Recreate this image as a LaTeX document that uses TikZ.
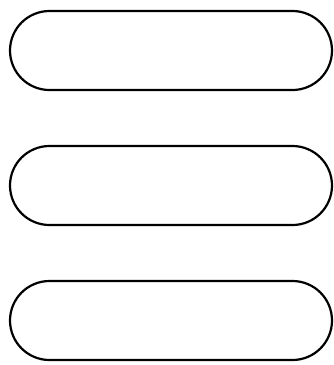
\documentclass[tikz,border=0pt]{standalone}
\usetikzlibrary{shapes.misc}
\begin{document}
\begin{tikzpicture}[x=1pt,y=1pt,
  pill/.style={draw=black, line width=2.2pt, rounded rectangle, rounded rectangle arc length=180,
    minimum width=322pt, minimum height=79pt, inner sep=0pt, fill=white}]
\useasboundingbox (0,0) rectangle (334,-365);
\node[pill] (b1) at (171,-50.5) {};
\node[pill] (b2) at (171,-185.5) {};
\node[pill] (b3) at (171,-320.5) {};
\end{tikzpicture}
\end{document}
